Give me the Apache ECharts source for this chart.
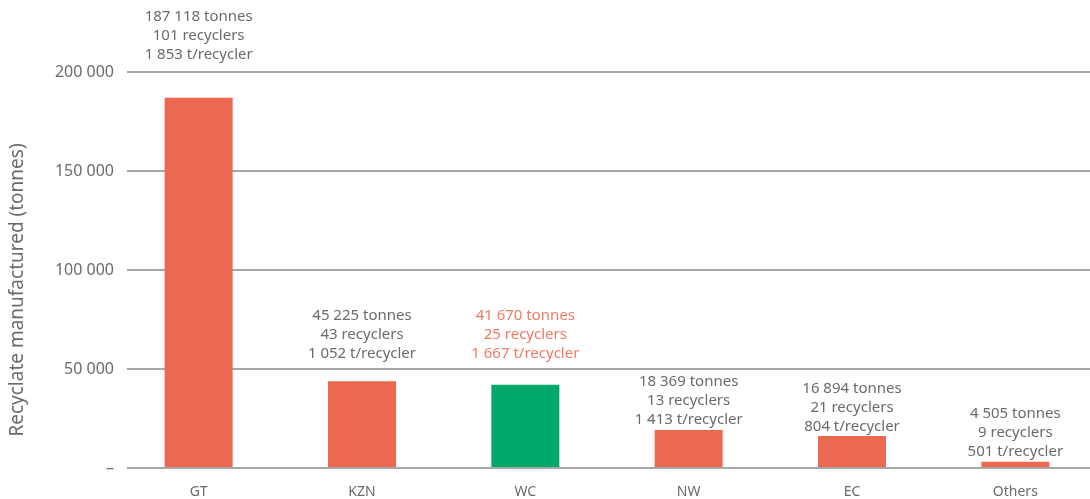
<!DOCTYPE html>
<html>
<head>
<meta charset="utf-8">
<script src="https://cdn.jsdelivr.net/npm/echarts@6/dist/echarts.min.js"></script>
<style>html,body{margin:0;padding:0;background:#fff;overflow:hidden;}#c{width:1100px;height:499px;}</style>
</head>
<body>
<div id="c"></div>
<script>
const categories = ['GT', 'KZN', 'WC', 'NW', 'EC', 'Others'];
const barValues = [187000, 43400, 41600, 18700, 15700, 2700];
const tonnesLabels = ['187 118', '45 225', '41 670', '18 369', '16 894', '4 505'];
const recyclerCounts = ['101', '43', '25', '13', '21', '9'];
const perRecycler = ['1 853', '1 052', '1 667', '1 413', '804', '501'];
const yTicks = [0, 50000, 100000, 150000, 200000];

const ORANGE = '#EC6850';
const GREEN = '#00A96A';
const GREY = '#6b6b6b';
const FONT = 'Noto Sans';
const labelGap = [33, 18, 22, 1, 0, 0];

function fmt(v) {
  if (v === 0) return '–';
  return String(v).replace(/\B(?=(\d{3})+(?!\d))/g, ' ');
}

const data = barValues.map((v, i) => {
  const highlight = categories[i] === 'WC';
  return {
    value: v,
    itemStyle: { color: highlight ? GREEN : ORANGE },
    label: {
      show: true,
      position: 'top',
      distance: labelGap[i],
      color: highlight ? '#F07A63' : GREY,
      formatter: tonnesLabels[i] + ' tonnes\n' + recyclerCounts[i] + ' recyclers\n' + perRecycler[i] + ' t/recycler'
    }
  };
});

const chart = echarts.init(document.getElementById('c'), null, { renderer: 'canvas' });
chart.setOption({
  animation: false,
  grid: [
    { left: 125, right: 10, top: 72, bottom: 31 },
    { left: 117, right: 3, top: 72, bottom: 31 }
  ],
  xAxis: [
    { gridIndex: 0, type: 'category', data: categories, show: false },
    {
      gridIndex: 1, type: 'category', data: categories,
      axisLine: { show: false }, axisTick: { show: false },
      axisLabel: { color: GREY, fontFamily: FONT, fontSize: 14, margin: 18 }
    }
  ],
  yAxis: [
    {
      gridIndex: 0, type: 'value', min: yTicks[0], max: yTicks[yTicks.length - 1], interval: 50000,
      name: 'Recyclate manufactured (tonnes)', nameLocation: 'middle', nameGap: 100,
      nameTextStyle: { color: GREY, fontFamily: FONT, fontSize: 19, padding: [0, 40, 0, 0] },
      axisLine: { show: false }, axisTick: { show: false },
      axisLabel: { color: GREY, fontFamily: FONT, fontSize: 16, margin: 13, formatter: fmt },
      splitLine: { lineStyle: { color: '#8a8a8a', width: 1.5 } }
    },
    {
      gridIndex: 1, type: 'value', min: yTicks[0], max: yTicks[yTicks.length - 1], interval: 50000,
      show: false, splitLine: { show: false }
    }
  ],
  series: [{
    type: 'bar',
    xAxisIndex: 1, yAxisIndex: 1,
    barWidth: 68,
    data: data,
    label: { fontFamily: FONT, fontSize: 15, lineHeight: 19, align: 'center' }
  }]
});
</script>
</body>
</html>
